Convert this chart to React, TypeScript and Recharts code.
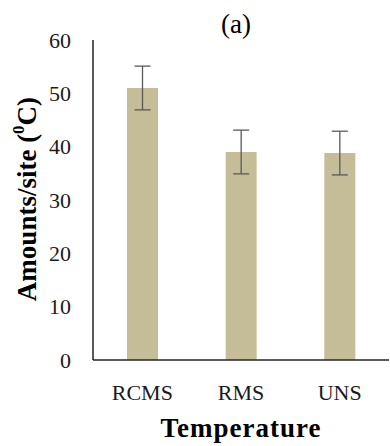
import React from 'react';
import { BarChart, Bar, XAxis, YAxis, ErrorBar, Label } from 'recharts';

const categories = ['RCMS', 'RMS', 'UNS'];
const values = [51.0, 39.0, 38.8];
const errors = [4.1, 4.1, 4.1];
const yTicks = [0, 10, 20, 30, 40, 50, 60];

const data = categories.map((c, i) => ({ name: c, value: values[i], err: errors[i] }));

const FONT = '"Liberation Serif", "Times New Roman", serif';

export default function App() {
  return (
    <div style={{ position: 'absolute', left: 0, top: 0, width: 390, height: 446, background: '#fff' }}>
      <BarChart
        width={390}
        height={446}
        data={data}
        margin={{ top: 40, right: 1, bottom: 56, left: 0 }}
        barSize={31}
      >
        <XAxis
          dataKey="name"
          height={30}
          axisLine={{ stroke: '#262626', strokeWidth: 1.3 }}
          tickLine={false}
          tickSize={0}
          tickMargin={24}
          tick={{ fill: '#1a1a1a', fontSize: 22, fontFamily: FONT }}
        >
          <Label
            content={() => (
              <text x={241} y={437} textAnchor="middle" fontFamily={FONT} fontWeight="bold" fontSize={27} fill="#000" letterSpacing={1}>
                Temperature
              </text>
            )}
          />
        </XAxis>
        <YAxis
          width={93}
          domain={[0, 60]}
          ticks={yTicks}
          interval={0}
          axisLine={{ stroke: '#000', strokeWidth: 1.3 }}
          tickLine={false}
          tickSize={0}
          tickMargin={22}
          tick={{ fill: '#1a1a1a', fontSize: 22, fontFamily: FONT }}
        >
          <Label
            content={() => (
              <text
                x={27}
                y={199}
                transform="rotate(-90 27 199)"
                textAnchor="middle"
                dominantBaseline="central"
                fontFamily={FONT}
                fontWeight="bold"
                fontSize={27}
                fill="#000"
              >
                Amounts/site (<tspan fontSize={17} dy={-9}>0</tspan><tspan dy={9}>C)</tspan>
              </text>
            )}
          />
        </YAxis>
        <Bar dataKey="value" fill="#C4BD97" isAnimationActive={false}>
          <ErrorBar dataKey="err" width={8} stroke="#595959" strokeWidth={1.3} direction="y" />
        </Bar>
      </BarChart>
      <div
        style={{
          position: 'absolute',
          left: 186,
          top: 8,
          width: 100,
          textAlign: 'center',
          fontFamily: FONT,
          fontSize: 27,
          lineHeight: '32px',
          color: '#000',
        }}
      >
        (a)
      </div>
    </div>
  );
}
